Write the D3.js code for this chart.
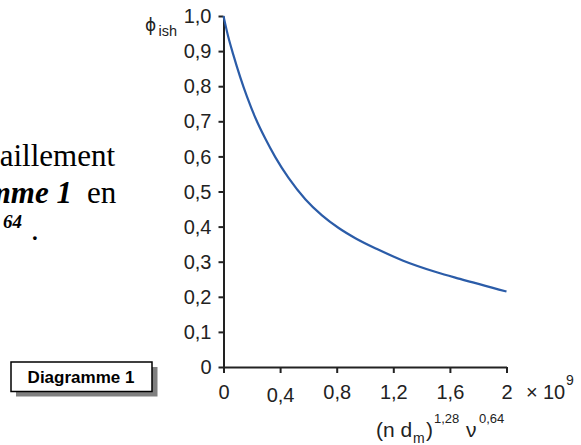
<!DOCTYPE html>
<html>
<head>
<meta charset="utf-8">
<script src="https://cdn.jsdelivr.net/npm/d3@7"></script>
<style>
  body { margin: 0; background: #fff; }
  svg { display: block; }
</style>
</head>
<body>
<svg></svg>
<script>
// data
var xValues = [0, 0.034, 0.069, 0.166, 0.225, 0.296, 0.366, 0.461, 0.578, 0.696, 0.814, 0.932, 1.085, 1.27, 1.507, 1.671, 2.0];
var yValues = [1.0, 0.94, 0.89, 0.77, 0.71, 0.65, 0.598, 0.538, 0.478, 0.432, 0.396, 0.367, 0.336, 0.303, 0.27, 0.251, 0.215];
var xTicks = [0, 0.4, 0.8, 1.2, 1.6, 2];
var xTickLabels = ["0", "0,4", "0,8", "1,2", "1,6", "2"];
var yTicks = [0, 0.1, 0.2, 0.3, 0.4, 0.5, 0.6, 0.7, 0.8, 0.9, 1.0];
var yTickLabels = ["0", "0,1", "0,2", "0,3", "0,4", "0,5", "0,6", "0,7", "0,8", "0,9", "1,0"];

var svg = d3.select("svg")
            .attr("width", 581)
            .attr("height", 445);

svg.append("rect").attr("width", 581).attr("height", 445).attr("fill", "#fff");

var x = d3.scaleLinear().domain([0, 2]).range([223.5, 506.5]),
    y = d3.scaleLinear().domain([0, 1]).range([367, 16]);

var axisColor = "#222";
var sans = "'Liberation Sans', Arial, 'DejaVu Sans', sans-serif";
var serif = "'Liberation Serif', 'Times New Roman', serif";

//left part of the text (cut by the page edge)
svg.append("text")
    .attr("x", 115).attr("y", 166)
    .attr("text-anchor", "end")
    .style("font-family", serif).style("font-size", "31px")
    .text("aillement");
svg.append("text")
    .attr("x", 72).attr("y", 203)
    .attr("text-anchor", "end")
    .style("font-family", serif).style("font-size", "31px")
    .style("font-weight", "bold").style("font-style", "italic")
    .text("mme 1");
svg.append("text")
    .attr("x", 87).attr("y", 203)
    .style("font-family", serif).style("font-size", "31px")
    .text("en");
svg.append("text")
    .attr("x", 22).attr("y", 228)
    .attr("text-anchor", "end")
    .style("font-family", serif).style("font-size", "19px")
    .style("font-weight", "bold").style("font-style", "italic")
    .text("64");
svg.append("text")
    .attr("x", 31).attr("y", 240)
    .style("font-family", serif).style("font-size", "31px")
    .text(".");

//Diagramme 1 box with shadow
svg.append("rect")
    .attr("x", 16).attr("y", 367).attr("width", 141.5).attr("height", 29.5)
    .attr("fill", "#808080");
svg.append("rect")
    .attr("x", 11).attr("y", 362).attr("width", 141).attr("height", 29.5)
    .attr("fill", "#fff").attr("stroke", "#000").attr("stroke-width", 1.5);
svg.append("text")
    .attr("x", 81).attr("y", 383)
    .attr("text-anchor", "middle")
    .style("font-family", sans).style("font-size", "17px").style("font-weight", "bold")
    .text("Diagramme 1");

//y axis
var yAxis = svg.append("g")
    .attr("transform", "translate(" + x(0) + ",0)")
    .call(d3.axisLeft(y).tickValues(yTicks).tickSize(5).tickSizeOuter(0)
        .tickFormat(function(d, i) { return yTickLabels[i]; }));

//x axis
var xAxis = svg.append("g")
    .attr("transform", "translate(0," + y(0) + ")")
    .call(d3.axisBottom(x).tickValues(xTicks).tickSize(6).tickSizeOuter(0)
        .tickFormat(function(d, i) { return xTickLabels[i]; }));

[yAxis, xAxis].forEach(function(a) {
    a.select(".domain").attr("stroke", axisColor).attr("stroke-width", 2);
    a.selectAll(".tick line").attr("stroke", axisColor).attr("stroke-width", 2);
    a.selectAll(".tick text")
        .attr("fill", axisColor)
        .style("font-family", sans)
        .style("font-size", "20px");
});
yAxis.selectAll(".tick text").attr("x", -12).attr("dy", "0.33em");
xAxis.selectAll(".tick text").attr("dy", 0)
    .attr("y", function(d, i) { return i === 1 ? 34.5 : 32; });

// x 10^9
var mult = svg.append("text")
    .attr("y", 399)
    .attr("fill", axisColor)
    .style("font-family", sans).style("font-size", "20px");
mult.append("tspan").attr("x", 526).text("\u00d7");
mult.append("tspan").attr("x", 543).text("10");
mult.append("tspan").attr("x", 566).attr("dy", -14).style("font-size", "14px").text("9");

// y title
var yTitle = svg.append("text")
    .attr("x", 145).attr("y", 31)
    .attr("fill", axisColor)
    .style("font-family", sans).style("font-size", "19px");
yTitle.append("tspan").style("font-family", "'DejaVu Sans', sans-serif").style("font-size", "17px").text("\u03d5");
yTitle.append("tspan").attr("x", 158.5).attr("dy", 5).style("font-size", "14.5px").text("ish");

// x title
var xTitle = svg.append("text")
    .attr("x", 376).attr("y", 437)
    .attr("fill", axisColor)
    .style("font-family", sans).style("font-size", "21px");
xTitle.append("tspan").text("(n d");
xTitle.append("tspan").attr("x", 413).attr("dy", 6).style("font-size", "14px").text("m");
xTitle.append("tspan").attr("x", 426).attr("dy", -6).text(")");
xTitle.append("tspan").attr("x", 434).attr("dy", -14.5).style("font-size", "13px").text("1,28");
xTitle.append("tspan").attr("x", 466).attr("dy", 14.5).text("\u03bd");
xTitle.append("tspan").attr("x", 479).attr("dy", -14.5).style("font-size", "13px").text("0,64");

//curve
var line = d3.line()
    .curve(d3.curveMonotoneX)
    .x(function(d) { return x(d[0]); })
    .y(function(d) { return y(d[1]); });

svg.append("path")
    .datum(xValues.map(function(v, i) { return [v, yValues[i]]; }))
    .attr("fill", "none")
    .attr("stroke", "#2b5ca8")
    .attr("stroke-width", 2.2)
    .attr("d", line);
</script>
</body>
</html>
